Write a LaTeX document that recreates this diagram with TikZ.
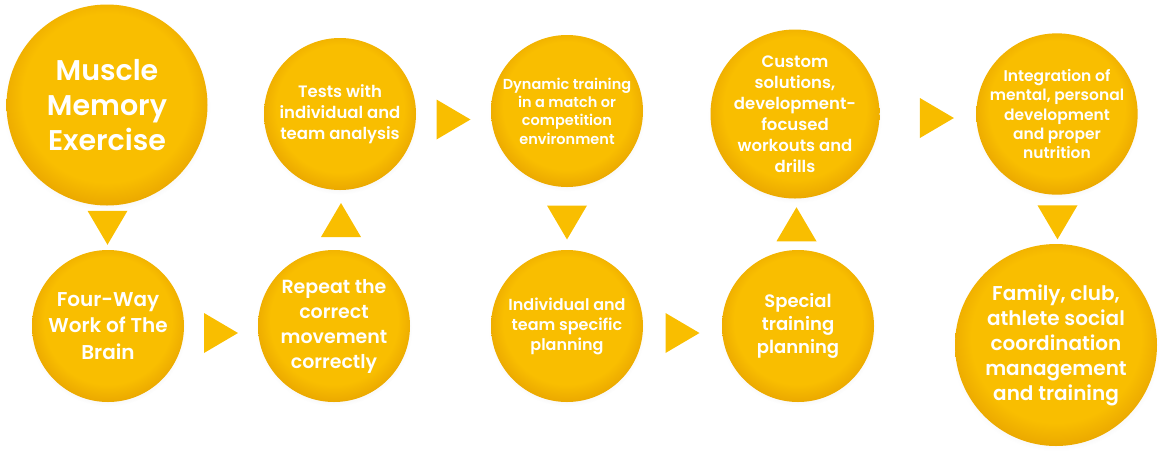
\documentclass[tikz,border=0pt]{standalone}
\usepackage{fontspec}
\setmainfont{Poppins}[BoldFont={Poppins SemiBold}]
\usetikzlibrary{calc,shadows}

\definecolor{btnyellow}{RGB}{249,190,0}
\definecolor{btnrim}{RGB}{236,170,0}
\pgfdeclareradialshading{buttonshade}{\pgfpoint{0bp}{3bp}}{color(0bp)=(btnyellow); color(21bp)=(btnyellow); color(26bp)=(btnrim); color(50bp)=(btnrim)}
\newcommand{\bubblefont}[2]{\bfseries\fontsize{#1}{#2}\selectfont}

\begin{document}
\begin{tikzpicture}[x=1pt, y=-1pt,
  bubble/.style = {circle, shading=buttonshade, text=white, align=center, inner sep=0pt,
    minimum size=#1, circular drop shadow={opacity=0.12, shadow xshift=0pt, shadow yshift=-2pt, shadow scale=1.03}},
  pics/tridown/.style = {code={\fill[btnyellow] (-20,-17) -- (20,-17) -- (0,17) -- cycle;}},
  pics/triup/.style = {code={\fill[btnyellow] (-20,17) -- (20,17) -- (0,-17) -- cycle;}},
  pics/triright/.style = {code={\fill[btnyellow] (-17,-20) -- (-17,20) -- (17,0) -- cycle;}}]
  \useasboundingbox (0,0) rectangle (1163,451);
  % top and bottom rows
  \node[bubble=201pt, font=\bubblefont{28.5}{35}] (muscle) at (107,105) {Muscle\\Memory\\Exercise};
  \node[bubble=152pt, font=\bubblefont{20}{26.5}] (brain) at (108,326) {Four-Way\\Work of The\\Brain};
  \node[bubble=152pt, font=\bubblefont{19}{25}] (repeat) at (334,326) {Repeat the\\correct\\movement\\correctly};
  \node[bubble=152pt, font=\bubblefont{16.5}{21}] (tests) at (340,114) {Tests with\\individual and\\team analysis};
  \node[bubble=152pt, font=\bubblefont{14.5}{18.3}] (dynamic) at (567,111) {Dynamic training\\in a match or\\competition\\environment};
  \node[bubble=152pt, font=\bubblefont{16}{20}] (planning) at (567,326) {Individual and\\team specific\\planning};
  \node[bubble=152pt, font=\bubblefont{18}{23}] (special) at (798,326) {Special\\training\\planning};
  \node[bubble=154pt, font=\bubblefont{16.5}{21}] (custom) at (795,114) {Custom\\solutions,\\development-\\focused\\workouts and\\drills};
  \node[bubble=154pt, font=\bubblefont{15.5}{19.3}] (mental) at (1057,114) {Integration of\\mental, personal\\development\\and proper\\nutrition};
  \node[bubble=202pt, font=\bubblefont{20}{25}] (family) at (1056,345) {Family, club,\\athlete social\\coordination\\management\\and training};
  % arrows
  \pic at ($(muscle.south)!.5!(brain.north)$) {tridown};
  \pic at ($(brain.east)!.5!(repeat.west)+(0,7)$) {triright};
  \pic at ($(repeat.north)!.5!(tests.south)+(4,0)$) {triup};
  \pic at ($(tests.east)!.5!(dynamic.west)+(0,7)$) {triright};
  \pic at ($(dynamic.south)!.5!(planning.north)+(0,4)$) {tridown};
  \pic at ($(planning.east)!.5!(special.west)+(0,7)$) {triright};
  \pic at ($(special.north)!.5!(custom.south)$) {triup};
  \pic at ($(custom.east)!.5!(mental.west)+(9,4)$) {triright};
  \pic at ($(mental.south)!.5!(family.north)+(1,3)$) {tridown};
\end{tikzpicture}
\end{document}
